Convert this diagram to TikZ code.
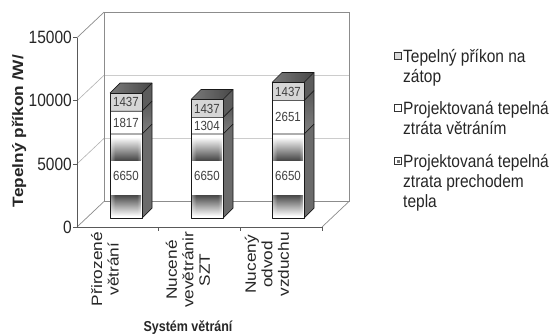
\documentclass[tikz,border=0pt]{standalone}
\usepackage{graphicx}
\usepackage{fontspec}
\setmainfont{Liberation Sans}
\usetikzlibrary{fadings}
\pgfdeclarehorizontalshading{sidefadeshade}{100bp}{color(0bp)=(pgftransparent!100); color(12bp)=(pgftransparent!100); color(32bp)=(pgftransparent!0); color(68bp)=(pgftransparent!0); color(88bp)=(pgftransparent!100); color(100bp)=(pgftransparent!100)}
\pgfdeclarefading{sidefade}{\pgfuseshading{sidefadeshade}}

\newcommand{\vst}[1]{\scalebox{1}[1.15]{#1}}
\newcommand{\hst}[1]{\scalebox{1.15}[1]{#1}}

\newcommand{\drawbar}[4]{% #1 x left, #2 middle value, #3 middle label, #4 name prefix
  \pgfmathsetmacro{\yA}{218-6650*0.01262}
  \pgfmathsetmacro{\yB}{\yA-#2*0.01262}
  \pgfmathsetmacro{\yC}{\yB-1437*0.01262}
  \pgfmathsetmacro{\xL}{#1}
  \pgfmathsetmacro{\xR}{#1+32}
  % side faces
  \shade[top color=black!58, middle color=black!88, bottom color=black!58]
    (\xR,218) -- ({\xR+10},208) -- ({\xR+10},{\yA-10}) -- (\xR,\yA) -- cycle;
  \shade[top color=black!65, bottom color=black!50]
    (\xR,\yA) -- ({\xR+10},{\yA-10}) -- ({\xR+10},{\yB-10}) -- (\xR,\yB) -- cycle;
  \fill[black!64]
    (\xR,\yB) -- ({\xR+10},{\yB-10}) -- ({\xR+10},{\yC-10}) -- (\xR,\yC) -- cycle;
  % top face
  \shade[left color=black!52, right color=black!72]
    (\xL,\yC) -- (\xR,\yC) -- ({\xR+10},{\yC-10}) -- ({\xL+10},{\yC-10}) -- cycle;
  % front faces
  \fill[white] (\xL,218) rectangle (\xR,\yA);
  \shade[top color=white, bottom color=black!72, path fading=sidefade]
    ({\xL+1},{\yA+3}) rectangle ({\xR-1},{\yA+26});
  \shade[top color=black!72, bottom color=white, path fading=sidefade]
    ({\xL+1},{\yA+61}) rectangle ({\xR-1},{\yA+82});
  \fill[white] (\xL,\yA) rectangle (\xR,\yB);
  \fill[black!16] (\xL,\yB) rectangle (\xR,\yC);
  % edges
  \draw[edge] (\xL,218) rectangle (\xR,\yC);
  \draw[edge] (\xL,\yA) -- (\xR,\yA) -- ({\xR+10},{\yA-10});
  \draw[edge] (\xL,\yB) -- (\xR,\yB) -- ({\xR+10},{\yB-10});
  \draw[edge] (\xR,218) -- ({\xR+10},208) -- ({\xR+10},{\yC-10}) -- ({\xL+10},{\yC-10}) -- (\xL,\yC);
  \draw[edge] (\xR,\yC) -- ({\xR+10},{\yC-10});
  % value labels
  \node[val] (#4a) at ({\xL+16},{(218+\yA)/2}) {\vst{6650}};
  \node[val] (#4b) at ({\xL+16},{(\yA+\yB)/2}) {\vst{#3}};
  \node[val] (#4c) at ({\xL+16},{(\yB+\yC)/2}) {\vst{1437}};
}

\begin{document}
\begin{tikzpicture}[x=1pt,y=-1pt,
  wall/.style={draw=black!45, line width=0.7pt},
  gridl/.style={draw=black!30, line width=0.6pt},
  axisline/.style={draw=black!65, line width=0.8pt},
  edge/.style={draw=black!90, line width=0.7pt, line join=round},
  ticklab/.style={font=\fontsize{15.5}{17}\selectfont, text=black!85, anchor=east, inner sep=0pt},
  val/.style={font=\fontsize{11.5}{13}\selectfont, text=black!75, inner sep=0pt},
  cat/.style={font=\fontsize{15}{16.5}\selectfont, text=black!85, rotate=90, anchor=east, inner sep=0pt},
  leg/.style={font=\fontsize{15.5}{18}\selectfont, text=black!85, anchor=base west, inner sep=0pt},
  markbox/.style={draw=black!80, line width=0.8pt, minimum size=6.5pt, inner sep=0pt}]
\useasboundingbox (0,0) rectangle (551,335);
\fill[white] (0,0) rectangle (551,335);

% gridlines (left wall and back wall)
\foreach \yy in {163.9,100.8} {
  \draw[gridl] (77,\yy) -- (104,{\yy-25.5}) -- (349,{\yy-25.5});
}
% walls
\draw[wall] (104,201.5) rectangle (349,12.2);
\draw[wall] (77,37.7) -- (104,12.2);
\draw[wall] (77,227) -- (104,201.5);
\draw[wall] (322,227) -- (349,201.5);
% front axes
\draw[axisline] (77,37.7) -- (77,227) -- (322,227);
\foreach \yy in {37.7,100.8,163.9,227} { \draw[axisline] (73,\yy) -- (77,\yy); }
\foreach \xx in {158,240,322} { \draw[axisline] (\xx,227) -- (\xx,231); }

% tick labels
\node[ticklab] (t15) at (72,37.7) {\vst{15000}};
\node[ticklab] (t10) at (72,100.8) {\vst{10000}};
\node[ticklab] (t5) at (72,163.9) {\vst{5000}};
\node[ticklab] (t0) at (72,227) {\vst{0}};

% axis titles
\node[font=\bfseries\fontsize{15}{18}\selectfont, text=black!85, rotate=90, inner sep=0pt] (ytitle) at (19,131) {\hst{Tepelný příkon /W/}};
\node[font=\bfseries\fontsize{12.5}{15}\selectfont, text=black!85, inner sep=0pt] (xtitle) at (188,328) {\vst{Systém větrání}};

% bars
\drawbar{110}{1817}{1817}{ba}
\drawbar{191}{1304}{1304}{bb}
\drawbar{272}{2651}{2651}{bc}

% category labels
\node[cat] (c1) at (107,232) {\hst{\begin{tabular}{@{}c@{}}Přirozené\\větrání\end{tabular}}};
\node[cat] (c2) at (190,232) {\hst{\begin{tabular}{@{}c@{}}Nucené\\vevětránir\\SZT\end{tabular}}};
\node[cat] (c3) at (269,232) {\hst{\begin{tabular}{@{}c@{}}Nucený\\odvod\\vzduchu\end{tabular}}};

% legend
\node[markbox, fill=black!15] (m1) at (398,56) {};
\node[leg] (l1a) at (403,62) {\vst{Tepelný příkon na}};
\node[leg] (l1b) at (403,82) {\vst{zátop}};
\node[markbox, fill=white] (m2) at (398,108) {};
\node[leg] (l2a) at (403,114) {\vst{Projektovaná tepelná}};
\node[leg] (l2b) at (403,134) {\vst{ztráta větráním}};
\node[markbox, fill=white] (m3) at (398,161) {};
\fill[black!55] (396.5,159.5) rectangle (399.5,162.5);
\node[leg] (l3a) at (403,167) {\vst{Projektovaná tepelná}};
\node[leg] (l3b) at (403,187) {\vst{ztrata prechodem}};
\node[leg] (l3c) at (403,207) {\vst{tepla}};
\end{tikzpicture}
\end{document}
